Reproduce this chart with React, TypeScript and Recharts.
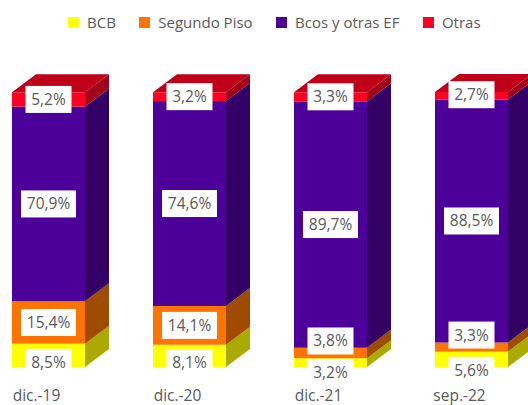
import React from 'react';
import { BarChart, Bar, XAxis, YAxis, Legend, LabelList } from 'recharts';

const periods = ['dic.-19', 'dic.-20', 'dic.-21', 'sep.-22'];
const bcb = [8.5, 8.1, 3.2, 5.6];
const segundoPiso = [15.4, 14.1, 3.8, 3.3];
const bcos = [70.9, 74.6, 89.7, 88.5];
const otras = [5.2, 3.2, 3.3, 2.7];

const data = periods.map((period, i) => ({
  period,
  bcb: bcb[i],
  segundoPiso: segundoPiso[i],
  bcos: bcos[i],
  otras: otras[i],
}));

const TEXT = '#595959';
const FONT = '"Open Sans", sans-serif';
const DEPTH_X = 24;
const DEPTH_Y = 18;

// labels that were dragged off their segment in the original
const BCB_NUDGE = [7, 7, 10, 11];
const PISO_NUDGE = [0, 0, -12, -12];
const OTRAS_NUDGE = [0, 0, 0, -1];

const box3d = (front: string, side: string, top?: string) => (props: any) => {
  const { x, y, width: w, height: h } = props;
  return (
    <g>
      <rect x={x} y={y} width={w} height={h} fill={front} />
      <polygon
        points={`${x + w},${y} ${x + w + DEPTH_X},${y - DEPTH_Y} ${x + w + DEPTH_X},${y + h - DEPTH_Y} ${x + w},${y + h}`}
        fill={side}
      />
      {top && (
        <polygon
          points={`${x},${y} ${x + DEPTH_X},${y - DEPTH_Y} ${x + w + DEPTH_X},${y - DEPTH_Y} ${x + w},${y}`}
          fill={top}
        />
      )}
    </g>
  );
};

const boxLabel = (nudge?: number[]) => (props: any) => {
  const { x, y, width, height, value, index } = props;
  const text = value.toFixed(1).replace('.', ',') + '%';
  const boxW = value >= 10 ? 55 : 46;
  const cx = x + width / 2;
  const cy = y + height / 2 + (nudge ? nudge[index] : 0);
  return (
    <g>
      <rect x={cx - boxW / 2} y={cy - 13.5} width={boxW} height={27} fill="#fff" />
      <text x={cx} y={cy + 5.5} textAnchor="middle" fontSize={15.5} fontFamily={FONT} fill={TEXT}>
        {text}
      </text>
    </g>
  );
};

const legendContent = (props: any) => (
  <div style={{ display: 'flex', paddingLeft: 68, fontFamily: FONT, fontSize: 15, color: TEXT, lineHeight: '20px' }}>
    {props.payload.map((item: any) => (
      <div key={item.value} style={{ display: 'flex', alignItems: 'center', marginRight: 23.5 }}>
        <span style={{ width: 11, height: 11, background: item.color, marginRight: 8 }} />
        {item.value}
      </div>
    ))}
  </div>
);

export default function App() {
  return (
    <div style={{ position: 'absolute', left: 0, top: 0, width: 528, height: 405, overflow: 'hidden' }}>
      <BarChart
        width={528}
        height={405}
        data={data}
        barSize={73}
        margin={{ top: 92, right: -14, bottom: 8, left: -22 }}
      >
        <XAxis
          dataKey="period"
          height={30}
          axisLine={false}
          tickLine={false}
          interval={0}
          tick={{ fill: TEXT, fontSize: 15.5, fontFamily: FONT, dx: -12, dy: 15 }}
        />
        <YAxis hide domain={[0, 100]} />
        <Legend
          verticalAlign="middle"
          itemSorter={null}
          content={legendContent}
          wrapperStyle={{ top: 12, left: 0, width: 528 }}
        />
        <Bar dataKey="bcb" name="BCB" stackId="a" fill="#FFFF00" isAnimationActive={false} shape={box3d('#FFFF00', '#AAAA00')}>
          <LabelList dataKey="bcb" content={boxLabel(BCB_NUDGE)} />
        </Bar>
        <Bar dataKey="segundoPiso" name="Segundo Piso" stackId="a" fill="#FF7300" isAnimationActive={false} shape={box3d('#FF7300', '#A04C00')}>
          <LabelList dataKey="segundoPiso" content={boxLabel(PISO_NUDGE)} />
        </Bar>
        <Bar dataKey="bcos" name="Bcos y otras EF" stackId="a" fill="#4D0099" isAnimationActive={false} shape={box3d('#4D0099', '#330066')}>
          <LabelList dataKey="bcos" content={boxLabel()} />
        </Bar>
        <Bar dataKey="otras" name="Otras" stackId="a" fill="#FF0022" isAnimationActive={false} shape={box3d('#FF0022', '#A00018', '#C00018')}>
          <LabelList dataKey="otras" content={boxLabel(OTRAS_NUDGE)} />
        </Bar>
      </BarChart>
    </div>
  );
}
